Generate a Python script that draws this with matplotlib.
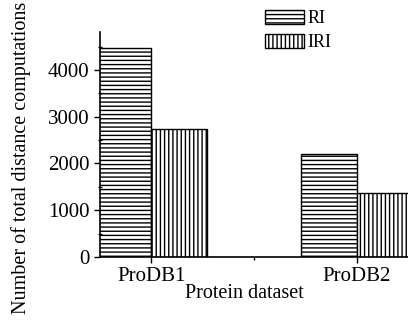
import numpy as np
import matplotlib
matplotlib.use("Agg")
import matplotlib.pyplot as plt
from matplotlib.ticker import MultipleLocator, FixedLocator

# データ
datasets = ["ProDB1", "ProDB2"]
ri_counts = [4470, 2200]
iri_counts = [2740, 1370]

plt.rcParams['font.family'] = ['Liberation Serif', 'DejaVu Serif']
plt.rcParams['hatch.linewidth'] = 1.0
plt.rcParams['hatch.color'] = 'black'

fig = plt.figure(figsize=(4.08, 3.23), dpi=100)
ax = fig.add_axes([100 / 408, 1 - 257 / 323, 1 - 100 / 408, (257 - 32) / 323])

x = np.arange(1, len(datasets) + 1)
w = 0.27
ax.bar(x - w, ri_counts, w, align='edge', color='white', edgecolor='black',
       hatch='----', linewidth=1.0, label='RI')
ax.bar(x, iri_counts, w, align='edge', color='white', edgecolor='black',
       hatch='||||', linewidth=1.0, label='IRI')

ax.set_xlim(0.75, 2.25)
ax.set_ylim(0, 4810)
ax.set_xticks(x)
ax.set_xticklabels(datasets)
ax.xaxis.set_minor_locator(FixedLocator([1.5]))
ax.yaxis.set_major_locator(MultipleLocator(1000))
ax.yaxis.set_minor_locator(MultipleLocator(500))

for s in ['top', 'right']:
    ax.spines[s].set_visible(False)
for s in ['left', 'bottom']:
    ax.spines[s].set_linewidth(1.2)

ax.tick_params(axis='both', which='major', direction='out', length=4, width=1.0,
               labelsize=15)
ax.tick_params(axis='y', which='minor', direction='inout', length=3, width=1.0)
ax.tick_params(axis='x', which='minor', direction='out', length=2.5, width=1.0)

ax.set_xlabel("Protein dataset", fontsize=14.5)
ax.xaxis.set_label_coords((244 - 100) / 308, -(293 - 257) / 225, transform=ax.transAxes)
ax.xaxis.label.set_va('center')
fig.text(21 / 408, 1 - 158 / 323, "Number of total distance computations",
         rotation=90, ha='center', va='center', fontsize=14.5)

ax.legend(loc='upper left', bbox_to_anchor=(265 / 408, 1 - 10 / 323),
          bbox_transform=fig.transFigure, frameon=False, fontsize=13,
          handlelength=2.15, handleheight=0.85, labelspacing=0.35,
          handletextpad=0.2, borderpad=0, borderaxespad=0)

fig.savefig("out.png", dpi=100)
